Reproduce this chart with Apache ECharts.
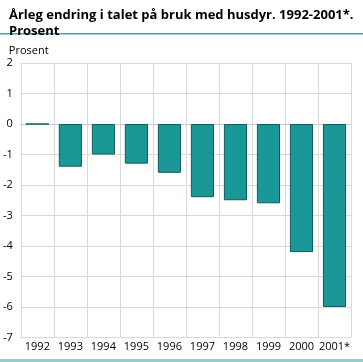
<!DOCTYPE html>
<html><head><meta charset="utf-8">
<script src="https://cdn.jsdelivr.net/npm/echarts@6/dist/echarts.min.js"></script>
<style>html,body{margin:0;padding:0;background:#fff}#c{width:363px;height:362px}</style>
</head><body><div id="c"></div>
<script>
const categories = ['1992','1993','1994','1995','1996','1997','1998','1999','2000','2001*'];
const values = [0, -1.4, -1.0, -1.3, -1.6, -2.4, -2.5, -2.6, -4.2, -6.0];
const titleLines = ['Årleg endring i talet på bruk med husdyr. 1992-2001*.', 'Prosent'];
const yName = 'Prosent';

const chart = echarts.init(document.getElementById('c'));
const font = '"Open Sans", "DejaVu Sans", sans-serif';
chart.setOption({
  animation: false,
  title: {
    text: titleLines.join('\n'),
    left: 4, top: 2,
    textStyle: {fontFamily: font, fontSize: 13, fontWeight: 'bold', color: '#000', lineHeight: 16}
  },
  graphic: [
    {type: 'rect', shape: {x: 0, y: 33, width: 363, height: 1.5}, style: {fill: '#3aa9a9'}},
    {type: 'rect', shape: {x: 0, y: 359, width: 363, height: 3}, style: {fill: '#8fd0cc'}}
  ],
  grid: {left: 19, right: 12, top: 63, bottom: 24.5},
  xAxis: {
    type: 'category', data: categories,
    axisLine: {show: true, lineStyle: {color: '#c8c8c8'}},
    axisTick: {show: false},
    splitLine: {show: true, lineStyle: {color: '#d9d9d9'}},
    axisLabel: {fontFamily: font, fontSize: 11, color: '#000', margin: 4, interval: 0}
  },
  yAxis: {
    type: 'value', min: -7, max: 2, interval: 1,
    name: yName, nameLocation: 'end', nameGap: 7,
    nameTextStyle: {fontFamily: font, fontSize: 11, color: '#000', align: 'left', padding: [0,0,0,-12]},
    axisLine: {show: true, lineStyle: {color: '#d9d9d9'}},
    axisTick: {show: false},
    splitLine: {show: true, lineStyle: {color: '#d9d9d9'}},
    axisLabel: {fontFamily: font, fontSize: 11, color: '#000', margin: 8}
  },
  series: [{
    type: 'bar', data: values, barWidth: '70%',
    itemStyle: {color: '#1a9898', borderColor: '#0e5c5c', borderWidth: 1}
  }]
});
</script></body></html>
